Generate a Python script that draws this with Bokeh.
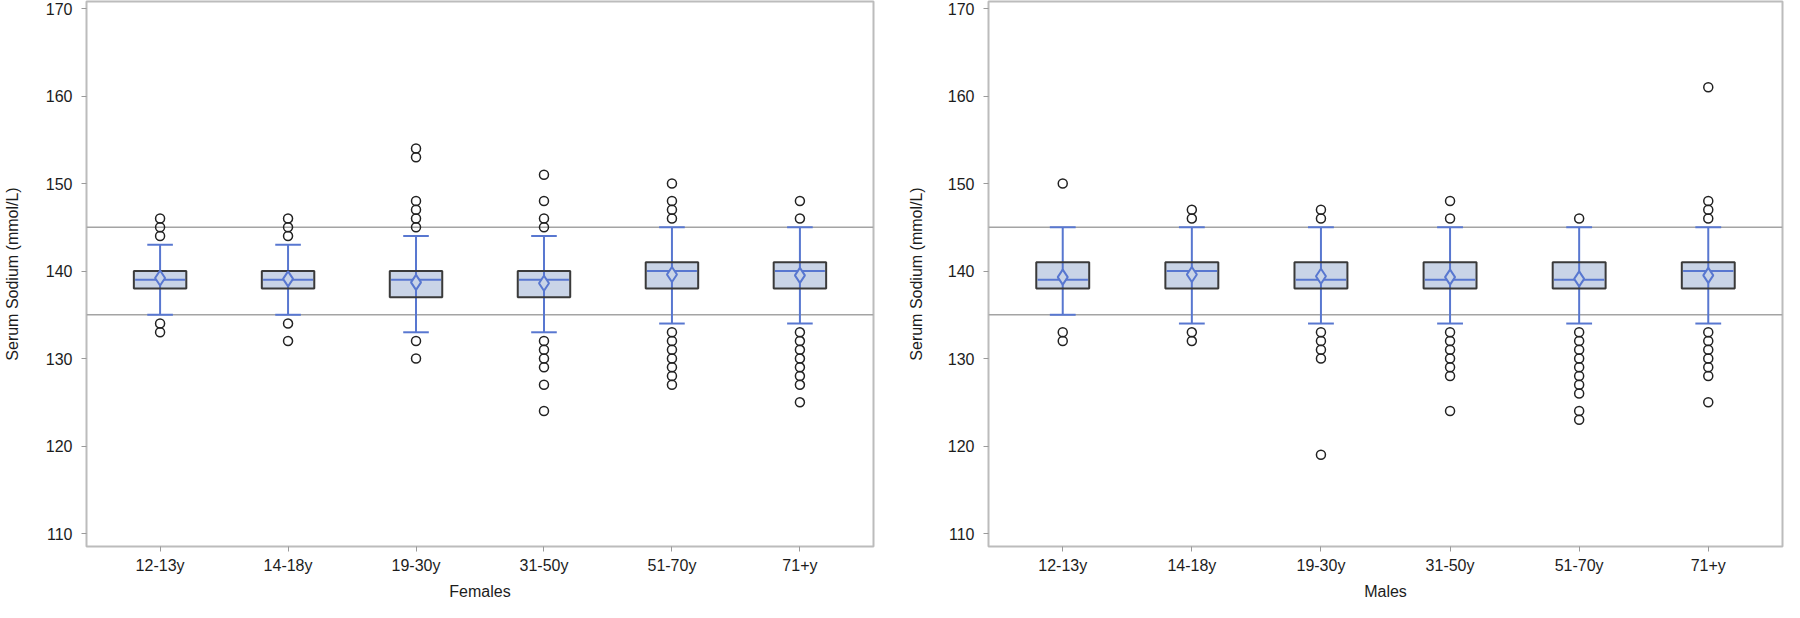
from bokeh.plotting import figure
from bokeh.models import ColumnDataSource, FactorRange, Range1d, Span, FixedTicker
from bokeh.layouts import row
from bokeh.transform import dodge
from bokeh.embed import file_html
from bokeh.resources import INLINE

categories = ["12-13y", "14-18y", "19-30y", "31-50y", "51-70y", "71+y"]
y_ticks = [110, 120, 130, 140, 150, 160, 170]
reference_limits = [135, 145]

# Females
f_q1 = [138, 138, 137, 137, 138, 138]
f_median = [139, 139, 139, 139, 140, 140]
f_q3 = [140, 140, 140, 140, 141, 141]
f_mean = [139.2, 139.1, 138.7, 138.6, 139.6, 139.5]
f_lower = [135, 135, 133, 133, 134, 134]
f_upper = [143, 143, 144, 144, 145, 145]
f_outliers = [
    [146, 145, 144, 134, 133],
    [146, 145, 144, 134, 132],
    [154, 153, 148, 147, 146, 145, 132, 130],
    [151, 148, 146, 145, 132, 131, 130, 129, 127, 124],
    [150, 148, 147, 146, 133, 132, 131, 130, 129, 128, 127],
    [148, 146, 133, 132, 131, 130, 129, 128, 127, 125],
]

# Males
m_q1 = [138, 138, 138, 138, 138, 138]
m_median = [139, 140, 139, 139, 139, 140]
m_q3 = [141, 141, 141, 141, 141, 141]
m_mean = [139.3, 139.6, 139.4, 139.3, 139.1, 139.5]
m_lower = [135, 134, 134, 134, 134, 134]
m_upper = [145, 145, 145, 145, 145, 145]
m_outliers = [
    [150, 133, 132],
    [147, 146, 133, 132],
    [147, 146, 133, 132, 131, 130, 119],
    [148, 146, 133, 132, 131, 130, 129, 128, 124],
    [146, 133, 132, 131, 130, 129, 128, 127, 126, 124, 123],
    [161, 148, 147, 146, 133, 132, 131, 130, 129, 128, 125],
]

BOX_FILL = "#c9d4e7"
BLUE = "#5877d0"
EDGE = "#3a3a3a"
FRAME = "#bcbcbc"
REF = "#a4a4a4"
FONT = "Liberation Sans"
HEIGHT = 602


def panel(xlabel, q1, med, q3, mean, lo, hi, outs, width, bl, br, lab_standoff):
    p = figure(
        x_range=FactorRange(factors=categories, range_padding=0.025),
        y_range=Range1d(108.52, 170.8),
        width=width, height=HEIGHT,
        output_backend="svg", toolbar_location=None,
        min_border_left=bl, min_border_right=br,
        min_border_top=1, min_border_bottom=54,
        background_fill_color="white", border_fill_color="white",
    )
    p.outline_line_color = FRAME
    p.outline_line_width = 2
    p.xgrid.visible = False
    p.ygrid.visible = False

    for r in reference_limits:
        p.add_layout(Span(location=r, dimension="width", line_color=REF,
                          line_width=1.5, level="underlay"))

    src = ColumnDataSource(dict(cat=categories, q1=q1, med=med, q3=q3,
                                mean=mean, lo=lo, hi=hi))
    # box fill
    p.vbar(x="cat", width=0.41, bottom="q1", top="q3", source=src,
           fill_color=BOX_FILL, line_color=None)
    # whisker stem
    p.segment(x0="cat", x1="cat", y0="lo", y1="hi", source=src,
              line_color=BLUE, line_width=2)
    # caps
    for col in ("lo", "hi"):
        p.segment(x0=dodge("cat", -0.1, range=p.x_range),
                  x1=dodge("cat", 0.1, range=p.x_range),
                  y0=col, y1=col, source=src, line_color=BLUE, line_width=2)
    # box outline
    p.vbar(x="cat", width=0.41, bottom="q1", top="q3", source=src,
           fill_color=None, line_color=EDGE, line_width=2)
    # median
    p.segment(x0=dodge("cat", -0.195, range=p.x_range),
              x1=dodge("cat", 0.195, range=p.x_range),
              y0="med", y1="med", source=src, line_color=BLUE, line_width=2)
    # mean
    p.scatter(x="cat", y="mean", source=src, marker="diamond", size=15,
              fill_color=BOX_FILL, line_color=BLUE, line_width=2)
    # outliers
    ox, oy = [], []
    for c, vals in zip(categories, outs):
        for v in vals:
            ox.append(c)
            oy.append(v)
    p.scatter(x=ox, y=oy, marker="circle", size=9, fill_color=None,
              line_color="#222222", line_width=1.5)

    # axes
    p.xaxis.axis_label = xlabel
    p.yaxis.axis_label = "Serum Sodium (mmol/L)"
    p.yaxis.ticker = FixedTicker(ticks=y_ticks)
    for ax in (p.xaxis[0], p.yaxis[0]):
        ax.axis_line_color = None
        ax.major_tick_in = 0
        ax.major_tick_out = 5
        ax.major_tick_line_color = "#9a9a9a"
        ax.minor_tick_line_color = None
        ax.major_label_text_font = FONT
        ax.major_label_text_font_size = "16px"
        ax.major_label_text_color = "#1c1c1c"
        ax.axis_label_text_font = FONT
        ax.axis_label_text_font_size = "16px"
        ax.axis_label_text_font_style = "normal"
        ax.axis_label_text_color = "#1c1c1c"
    p.xaxis.major_label_standoff = 5
    p.xaxis.axis_label_standoff = 6
    p.yaxis.major_label_standoff = 9
    p.yaxis.axis_label_standoff = lab_standoff
    return p


p1 = panel("Females", f_q1, f_median, f_q3, f_mean, f_lower, f_upper,
           f_outliers, 892, 79, 19, 22)
p2 = panel("Males", m_q1, m_median, m_q3, m_mean, m_lower, m_upper,
           m_outliers, 892, 96, 2, 20)

layout = row(p1, p2)
open("out.html", "w").write(file_html(layout, INLINE))
